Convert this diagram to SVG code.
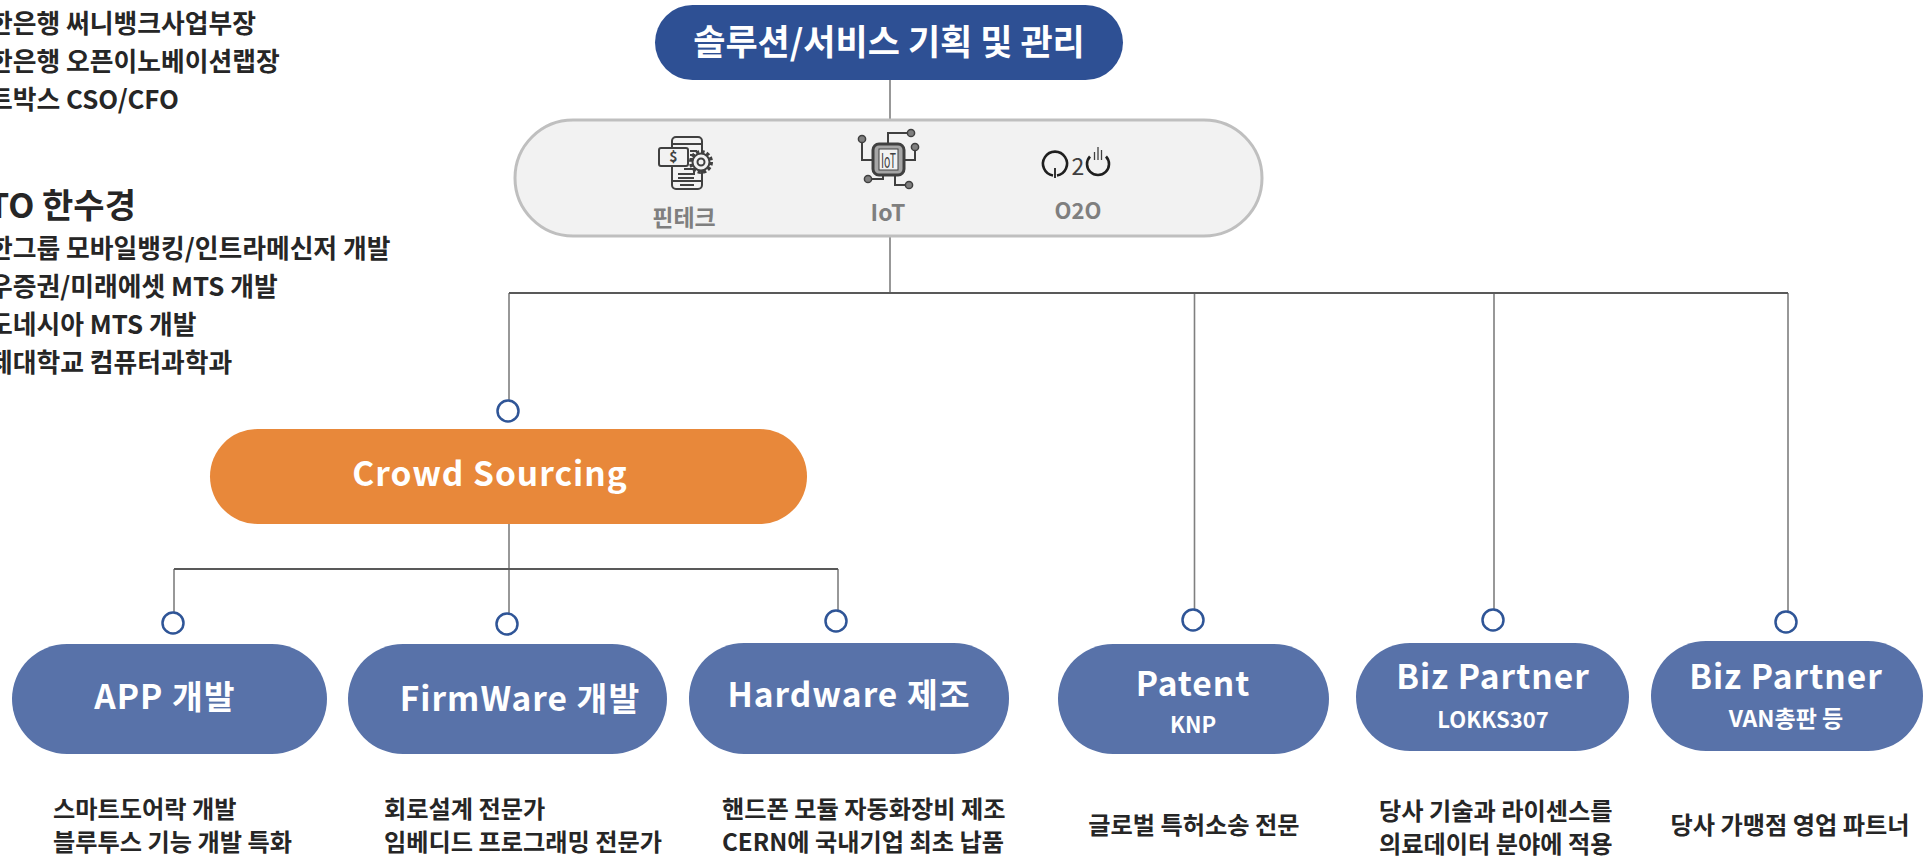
<svg xmlns="http://www.w3.org/2000/svg" width="1923" height="858" viewBox="0 0 1923 858">
<style>
text{font-family:"Noto Sans CJK KR","Noto Sans",sans-serif;font-weight:700}
.c{text-anchor:middle}
.w{fill:#fff}
.lg{font-size:33.5px;letter-spacing:1px}
.sm{font-size:22px}
.d{font-size:24.2px;fill:#262626}
.bio{font-size:25.8px;fill:#262626}
.g{font-size:23px;fill:#7f7f7f}
.n{fill:#5872a9}
.ln{fill:none;stroke:#7f7f7f;stroke-width:1.6}
.ld{fill:none;stroke:#595959;stroke-width:2}
.dot{fill:#fff;stroke:#2f5597;stroke-width:2.5}
.ic{fill:none;stroke:#404040;stroke-width:2}
.icg{fill:#7f7f7f;stroke:#404040;stroke-width:1.5}
</style>
<rect width="1923" height="858" fill="#fff"/>
<g id="bio">
<text class="bio" x="-11" y="33">한은행 써니뱅크사업부장</text>
<text class="bio" x="-11" y="71">한은행 오픈이노베이션랩장</text>
<text class="bio" x="-11" y="109">트박스 CSO/CFO</text>
<text x="-12" y="218" font-size="34" fill="#262626">TO 한수경</text>
<text class="bio" x="-11" y="258">한그룹 모바일뱅킹/인트라메신저 개발</text>
<text class="bio" x="-11" y="296">우증권/미래에셋 MTS 개발</text>
<text class="bio" x="-11" y="334">도네시아 MTS 개발</text>
<text class="bio" x="-11" y="372">제대학교 컴퓨터과학과</text>
</g>
<g id="connectors">
<path class="ln" d="M890 80V136M890 237V292M509 293V400M1194.5 293V609M1494 293V609M1788 293V611"/>
<path class="ld" d="M509 293H1788"/>
<path class="ln" d="M509 524V613M174 569V612M838 569V611"/>
<path class="ld" d="M174 569H838"/>
</g>
<g id="node-top">
<rect x="655" y="5" width="468" height="75" rx="37.5" fill="#2e5094"/>
<text class="c w" x="889" y="55" font-size="35">솔루션/서비스 기획 및 관리</text>
</g>
<g id="node-services">
<rect x="515" y="120" width="747" height="116" rx="58" fill="#f2f2f2" stroke="#bfbfbf" stroke-width="3"/>
<g id="icon-fintech">
<rect class="ic" x="672" y="137" width="30" height="52" rx="4"/>
<path class="ic" d="M672 144H702M672 181H702M680 185H694M678 174H694V169H684M678 178H694"/>
<rect class="ic" x="659" y="148" width="29" height="18" rx="2" style="fill:#f2f2f2"/>
<text x="673.5" y="162" class="c" font-size="14" fill="#404040">$</text>
<path class="ic" d="M690 151H697M690 155H695M690 159H693"/>
<circle cx="701" cy="162" r="10" style="fill:none;stroke:#404040;stroke-width:4;stroke-dasharray:3.2 2.03"/>
<circle cx="701" cy="162" r="8.5" class="ic" style="fill:#f2f2f2"/>
<circle cx="701" cy="162" r="3.5" class="ic"/>
</g>
<text class="c g" x="684" y="226">핀테크</text>
<g id="icon-iot">
<rect class="ic" x="873" y="144" width="31" height="31" rx="6" style="stroke-width:3;fill:#a6a6a6"/>
<rect x="879" y="149" width="19" height="21" fill="#f2f2f2" stroke="#404040" stroke-width="1"/>
<text class="c" x="888.5" y="168" font-size="20" fill="#404040" style="font-weight:400" textLength="15" lengthAdjust="spacingAndGlyphs">IoT</text>
<path class="ic" d="M888 143V133H911M862 139V160H873M904 160H915V147M883 175V179H868M895 175V185H909"/>
<g class="icg"><circle cx="862" cy="139" r="3.6"/><circle cx="911" cy="133" r="3.6"/><circle cx="915" cy="147" r="3.6"/><circle cx="868" cy="179" r="3.6"/><circle cx="909" cy="185" r="3.6"/></g>
</g>
<text class="c g" x="888" y="221">IoT</text>
<g id="icon-o2o">
<path d="M1053 175.500A12 12 0 1 1 1057 175.500" fill="none" stroke="#1f1f1f" stroke-width="2.600"/>
<path d="M1055 168V178" fill="none" stroke="#1f1f1f" stroke-width="1.800"/>
<text x="1078" y="175" class="c" font-size="23" fill="#404040" style="font-weight:400">2</text>
<path d="M1090 156.500A11 11 0 1 0 1106 156.500" fill="none" stroke="#1f1f1f" stroke-width="2.600"/>
<path d="M1094.500 160V152M1098 160V147M1101.500 160V150" fill="none" stroke="#404040" stroke-width="1.300"/>
</g>
<text class="c g" x="1078" y="219" style="font-size:22px">O2O</text>
</g>
<g id="node-crowd">
<rect x="210" y="429" width="597" height="95" rx="47.5" fill="#e8883a"/>
<text class="c w" x="490" y="486" font-size="33.5" letter-spacing="1">Crowd Sourcing</text>
<circle class="dot" cx="508" cy="411" r="10.5"/>
</g>
<g id="node-app">
<rect class="n" x="12" y="644" width="315" height="110" rx="55"/>
<circle class="dot" cx="173" cy="623" r="10.5"/>
<text class="c w lg" x="165" y="709">APP 개발</text>
<text class="d" x="53" y="818">스마트도어락 개발</text>
<text class="d" x="53" y="851">블루투스 기능 개발 특화</text>
</g>
<g id="node-firmware">
<rect class="n" x="348" y="644" width="319" height="110" rx="55"/>
<circle class="dot" cx="507" cy="624" r="10.5"/>
<text class="c w lg" x="520" y="711">FirmWare 개발</text>
<text class="d" x="384" y="818">회로설계 전문가</text>
<text class="d" x="384" y="851">임베디드 프로그래밍 전문가</text>
</g>
<g id="node-hardware">
<rect class="n" x="689" y="643" width="320" height="111" rx="55"/>
<circle class="dot" cx="836" cy="621" r="10.5"/>
<text class="c w lg" x="849" y="707">Hardware 제조</text>
<text class="d" x="722" y="818">핸드폰 모듈 자동화장비 제조</text>
<text class="d" x="722" y="851">CERN에 국내기업 최초 납품</text>
</g>
<g id="node-patent">
<rect class="n" x="1058" y="644" width="271" height="110" rx="55"/>
<circle class="dot" cx="1193" cy="620" r="10.5"/>
<text class="c w lg" x="1193" y="696">Patent</text>
<text class="c w sm" x="1193" y="733">KNP</text>
<text class="d c" x="1194" y="834">글로벌 특허소송 전문</text>
</g>
<g id="node-biz1">
<rect class="n" x="1356" y="643" width="273" height="108" rx="54"/>
<circle class="dot" cx="1493" cy="620" r="10.5"/>
<text class="c w lg" x="1493" y="689">Biz Partner</text>
<text class="c w sm" x="1493" y="728">LOKKS307</text>
<text class="d" x="1379" y="820">당사 기술과 라이센스를</text>
<text class="d" x="1379" y="853">의료데이터 분야에 적용</text>
</g>
<g id="node-biz2">
<rect class="n" x="1651" y="641" width="272" height="110" rx="55"/>
<circle class="dot" cx="1786" cy="622" r="10.5"/>
<text class="c w lg" x="1786" y="689">Biz Partner</text>
<text class="c w sm" x="1786" y="727" style="font-size:23px">VAN총판 등</text>
<text class="d c" x="1790" y="834">당사 가맹점 영업 파트너</text>
</g>
</svg>
